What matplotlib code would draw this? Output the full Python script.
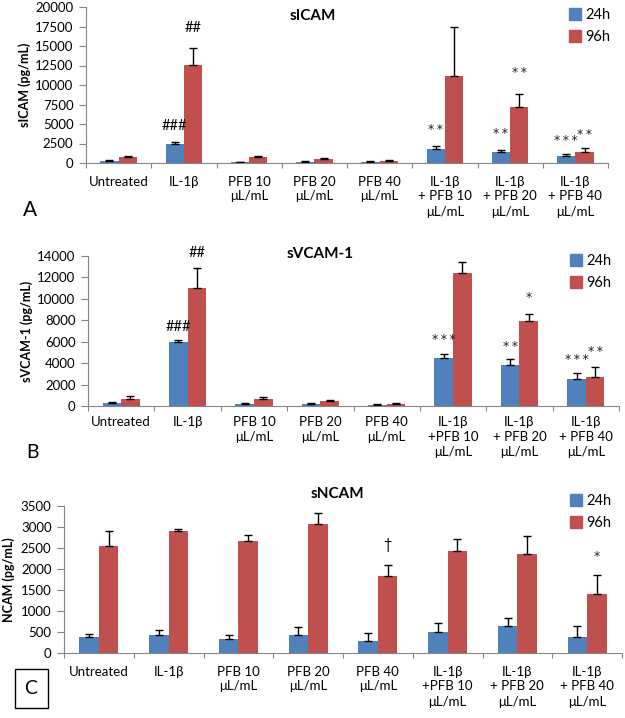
import matplotlib
matplotlib.use("Agg")
import matplotlib.pyplot as plt
import numpy as np
from matplotlib.patches import Patch, Rectangle

plt.rcParams['font.family'] = ['Lato', 'Open Sans', 'DejaVu Sans']

# 数据
labels_A = ["Untreated", "IL-1β", "PFB 10\nμL/mL", "PFB 20\nμL/mL", "PFB 40\nμL/mL",
            "IL-1β\n+ PFB 10\nμL/mL", "IL-1β\n+ PFB 20\nμL/mL", "IL-1β\n+ PFB 40\nμL/mL"]
labels_BC = ["Untreated", "IL-1β", "PFB 10\nμL/mL", "PFB 20\nμL/mL", "PFB 40\nμL/mL",
             "IL-1β\n+PFB 10\nμL/mL", "IL-1β\n+ PFB 20\nμL/mL", "IL-1β\n+ PFB 40\nμL/mL"]

sicam_24 = [220, 2500, 85, 130, 85, 1840, 1410, 940]
sicam_24_err = [150, 150, 80, 120, 170, 290, 290, 210]
sicam_96 = [770, 12600, 720, 510, 260, 11100, 7170, 1370]
sicam_96_err = [150, 2200, 220, 130, 170, 6400, 1700, 510]
sicam_marks = [(1, 0, 4700, "###"), (1, 1, 17300, "##"), (5, 0, 4270, "**"),
               (6, 0, 3750, "**"), (6, 1, 11600, "**"), (7, 0, 2900, "***"), (7, 1, 3630, "**")]

svcam_24 = [280, 5970, 190, 160, 120, 4510, 3830, 2490]
svcam_24_err = [90, 150, 60, 120, 80, 370, 590, 560]
svcam_96 = [680, 11000, 690, 440, 220, 12380, 7930, 2740]
svcam_96_err = [250, 1900, 150, 120, 90, 1060, 620, 900]
svcam_marks = [(1, 0, 7370, "###"), (1, 1, 14270, "##"), (5, 0, 6220, "***"),
               (6, 0, 5600, "**"), (6, 1, 10100, "*"), (7, 0, 4350, "***"), (7, 1, 5130, "**")]

sncam_24 = [390, 420, 340, 420, 280, 500, 640, 380]
sncam_24_err = [70, 120, 90, 190, 190, 220, 200, 260]
sncam_96 = [2540, 2910, 2670, 3060, 1840, 2440, 2360, 1400]
sncam_96_err = [370, 50, 130, 270, 260, 280, 420, 460]
sncam_marks = [(4, 1, 2580, "†"), (7, 1, 2300, "*")]

blue = "#4F81BD"
red = "#C0504D"
gray = "#868686"

W, H = 625, 718


def fx(px):
    return px / W


def fy(py):
    return 1 - py / H


fig = plt.figure(figsize=(W / 100, H / 100), dpi=100)


def draw_panel(left, right, top, bottom, labels, v24, e24, v96, e96, marks,
               ymax, ystep, title, title_pos, ylabel, ylabel_pos, leg_pos, xpad):
    ax = fig.add_axes([fx(left), fy(bottom), (right - left) / W, (bottom - top) / H])
    x = np.arange(len(labels))
    w = 0.28
    ekw = dict(ecolor="black", elinewidth=1, capsize=3, capthick=1)
    ax.bar(x - w / 2, v24, w, color=blue, yerr=[np.zeros(len(x)), e24], error_kw=ekw, zorder=2)
    ax.bar(x + w / 2, v96, w, color=red, yerr=[np.zeros(len(x)), e96], error_kw=ekw, zorder=2)
    for i, s, y, t in marks:
        xx = x[i] - w / 2 if s == 0 else x[i] + w / 2
        if "*" in t:
            # 星号用DejaVu，字形更大
            ax.text(xx, y, "\u2009".join(t), ha="center", va="center", fontsize=9,
                    family="DejaVu Sans", color="#222222")
        else:
            ax.text(xx, y, t, ha="center", va="center", fontsize=10.5)
    ax.set_xlim(-0.5, len(labels) - 0.5)
    ax.set_ylim(0, ymax)
    ax.set_yticks(np.arange(0, ymax + 1, ystep))
    ax.set_xticks(np.arange(-0.5, len(labels)), [])
    ax.set_xticks(x, labels, minor=True)
    for sp in ["top", "right"]:
        ax.spines[sp].set_visible(False)
    for sp in ["left", "bottom"]:
        ax.spines[sp].set_color(gray)
    ax.tick_params(axis="y", direction="out", length=5, color=gray, labelsize=9.5, pad=4)
    ax.tick_params(axis="x", which="major", direction="out", length=3.6, color=gray)
    ax.tick_params(axis="x", which="minor", length=0, labelsize=9.5, pad=xpad)
    for lab in ax.get_xticklabels(minor=True):
        lab.set_linespacing(1.3)
    fig.text(fx(title_pos[0]), fy(title_pos[1]), title, ha="center", va="center",
             fontsize=11, fontweight="bold")
    fig.text(fx(ylabel_pos[0]), fy(ylabel_pos[1]), ylabel, ha="center", va="center",
             rotation=90, fontsize=9, fontweight="bold")
    handles = [Patch(color=blue, label="24h"), Patch(color=red, label="96h")]
    fig.legend(handles=handles, loc="upper left", bbox_to_anchor=(fx(leg_pos[0]), fy(leg_pos[1])),
               frameon=False, fontsize=10.5, handlelength=0.8, handleheight=0.8,
               handletextpad=0.3, labelspacing=0.55, borderpad=0, borderaxespad=0)
    return ax


draw_panel(86, 608, 7, 163, labels_A, sicam_24, sicam_24_err, sicam_96, sicam_96_err, sicam_marks,
           20000, 2500, "sICAM", (313, 16), "sICAM (pg/mL)", (25, 85), (569, 8), 9)
draw_panel(88, 619, 256, 406, labels_BC, svcam_24, svcam_24_err, svcam_96, svcam_96_err, svcam_marks,
           14000, 2000, "sVCAM-1", (320, 254), "sVCAM-1 (pg/mL)", (27, 331), (570, 254), 7)
draw_panel(64, 622, 506, 653, labels_BC, sncam_24, sncam_24_err, sncam_96, sncam_96_err, sncam_marks,
           3500, 500, "sNCAM", (337, 494), "NCAM (pg/mL)", (9, 580), (570, 494), 9)

# 面板字母
fig.text(fx(30), fy(210), "A", ha="center", va="center", fontsize=15)
fig.text(fx(32), fy(453), "B", ha="center", va="center", fontsize=14)
fig.patches.append(Rectangle((fx(15), fy(708)), 33 / W, 39 / H, transform=fig.transFigure,
                             fill=False, ec="black", lw=1))
fig.text(fx(31), fy(689), "C", ha="center", va="center", fontsize=14)

fig.savefig("out.png", dpi=100)
